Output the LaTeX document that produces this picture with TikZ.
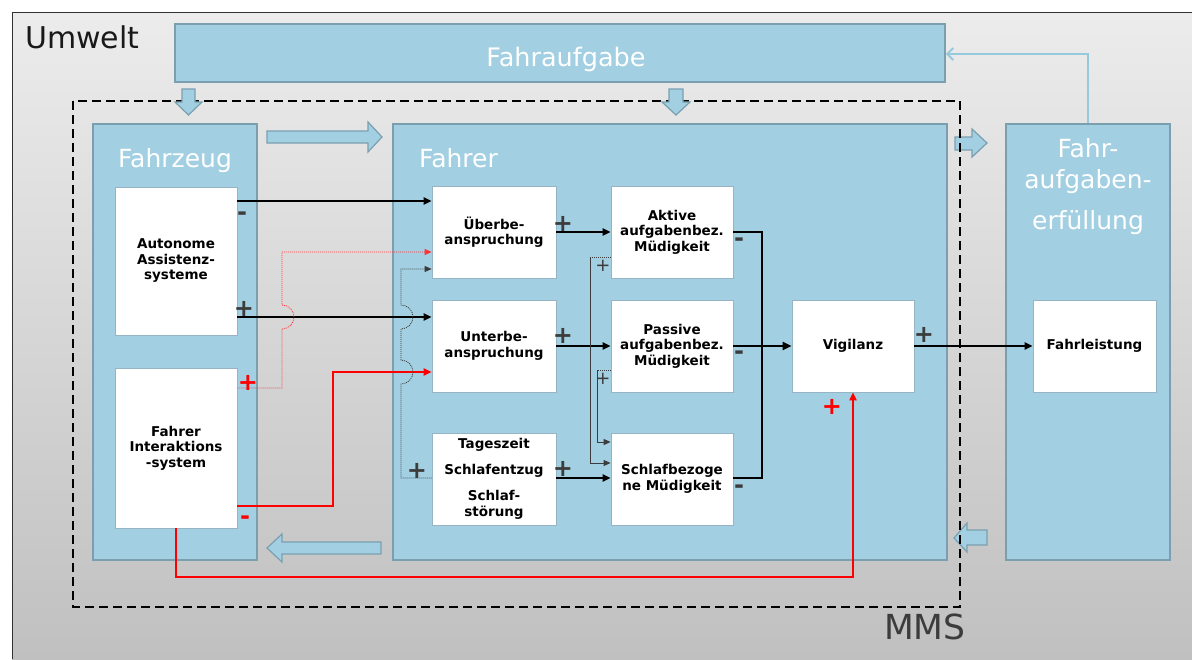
\documentclass[tikz,border=0pt]{standalone}
\usepackage{fontspec}
\setmainfont{DejaVu Sans}
\usetikzlibrary{arrows.meta}
\definecolor{lblue}{RGB}{162,207,225}
\definecolor{bborder}{RGB}{122,160,176}
\definecolor{wborder}{RGB}{150,180,195}
\definecolor{dgray}{RGB}{60,60,60}
\definecolor{mred}{RGB}{255,0,0}
\definecolor{fbblue}{RGB}{150,200,222}
\definecolor{envtop}{RGB}{236,236,236}
\definecolor{envbot}{RGB}{192,192,192}
\definecolor{frameclr}{RGB}{50,50,50}
\begin{document}
\begin{tikzpicture}[x=1pt,y=-1pt,
  bigbox/.style={draw=bborder,line width=1.8pt,fill=lblue,inner sep=0pt},
  wbox/.style={draw=wborder,line width=0.8pt,fill=white,inner sep=0pt,align=center,
     font=\fontsize{13.5}{15.5}\selectfont\bfseries,text=black},
  bigtext/.style={text=white,font=\fontsize{25}{30}\selectfont,inner sep=0pt},
  sign/.style={font=\fontsize{24}{24}\selectfont\bfseries,text=dgray,inner sep=0pt},
  rsign/.style={sign,text=mred},
  tsign/.style={font=\fontsize{18}{18}\selectfont,text=dgray,inner sep=0pt},
  blockarrow/.style={fill=lblue,draw=bborder,line width=1.2pt,line join=miter},
  blk/.style={line width=2.2pt,-{Triangle[length=8pt,width=7pt]}},
  bthick/.style={line width=2.6pt},
  rthick/.style={draw=mred,line width=2.4pt,-{Triangle[length=8pt,width=7pt]}},
  rdot/.style={draw=mred!80,line width=0.8pt,dash pattern=on 1pt off 1pt,-{Triangle[length=7pt,width=6pt]}},
  gdot/.style={draw=dgray,line width=0.8pt,dash pattern=on 1pt off 1pt,-{Triangle[length=7pt,width=6pt]}},
  gthin/.style={draw=dgray,line width=0.9pt,-{Triangle[length=7pt,width=6pt]}},
  gdots/.style={draw=dgray,line width=0.9pt,dash pattern=on 1pt off 1pt},
  fbarrow/.style={draw=fbblue,line width=2pt,-{Straight Barb[length=6pt,width=12pt]}},
  mms/.style={dash pattern=on 9pt off 5pt,line width=2pt}
]
\useasboundingbox (0,0) rectangle (1192,659);
\fill[white] (0,0) rectangle (1192,659);
% environment
\shade[top color=envtop,bottom color=envbot] (12,12) rectangle (1192,659);
\draw[frameclr,line width=1pt] (12,659) -- (12,12) -- (1192,12);
\node[anchor=base west,font=\fontsize{30}{30}\selectfont,text=black!90,inner sep=0pt] (umw) at (25,48) {Umwelt};

% big boxes
\node[bigbox,minimum width=770pt,minimum height=58pt] (fa) at (560,53) {};
\node[bigtext,anchor=base,font=\fontsize{25.5}{30}\selectfont] (fat) at (566,66) {Fahraufgabe};
\node[bigbox,minimum width=164pt,minimum height=436pt] (fz) at (175,342) {};
\node[bigbox,minimum width=554pt,minimum height=436pt] (fr) at (670,342) {};
\node[bigbox,minimum width=164pt,minimum height=436pt] (fe) at (1088,342) {};
\node[bigtext,anchor=base] (fzt) at (175,167) {Fahrzeug};
\node[bigtext,anchor=base west] (frt) at (419,167) {Fahrer};
\node[bigtext,anchor=base] (fet1) at (1088,157) {Fahr-};
\node[bigtext,anchor=base] (fet2) at (1088,188) {aufgaben-};
\node[bigtext,anchor=base] (fet3) at (1088,229) {erfüllung};

% block arrows (horizontal)
\draw[blockarrow] (267,131) -- (368,131) -- (368,122) -- (382,137) -- (368,152) -- (368,143) -- (267,143) -- cycle;
\draw[blockarrow] (955,137) -- (972,137) -- (972,129) -- (987,143) -- (972,157) -- (972,150) -- (955,150) -- cycle;
\draw[blockarrow] (381,542) -- (282,542) -- (282,534) -- (267,548) -- (282,562) -- (282,554) -- (381,554) -- cycle;
\draw[blockarrow] (987,530) -- (967,530) -- (967,523) -- (954,538) -- (967,552) -- (967,545) -- (987,545) -- cycle;

% MMS boundary
\draw[mms] (73,101) rectangle (960,607);
\node[anchor=base west,font=\fontsize{34.5}{34}\selectfont,text=dgray,inner sep=0pt] (mmst) at (884,639) {MMS};

% block arrows (down)
\draw[blockarrow] (182,89) -- (195,89) -- (195,102) -- (202,102) -- (188.5,115) -- (175,102) -- (182,102) -- cycle;
\draw[blockarrow] (669,89) -- (683,89) -- (683,102) -- (690,102) -- (676,115) -- (662,102) -- (669,102) -- cycle;

% feedback
\draw[fbarrow] (fe.north) -- (fe.north |- 0,54) -- (fa.east |- 0,54);

% white boxes
\node[wbox,minimum width=122pt,minimum height=148pt] (aa) at (176,261) {Autonome\\Assistenz-\\systeme};
\node[wbox,minimum width=122pt,minimum height=160pt] (fi) at (176,448) {Fahrer\\Interaktions\\-system};
\node[wbox,minimum width=124pt,minimum height=92pt] (ub) at (494,232) {Überbe-\\anspruchung};
\node[wbox,minimum width=124pt,minimum height=92pt] (un) at (494,346) {Unterbe-\\anspruchung};
\node[wbox,minimum width=124pt,minimum height=92pt,font=\fontsize{13.5}{16}\selectfont\bfseries] (ts) at (494,479) {Tageszeit\\[10pt]Schlafentzug\\[10pt]Schlaf-\\störung};
\node[wbox,minimum width=122pt,minimum height=92pt] (ak) at (672,232) {Aktive\\aufgabenbez.\\Müdigkeit};
\node[wbox,minimum width=122pt,minimum height=92pt] (pa) at (672,346) {Passive\\aufgabenbez.\\Müdigkeit};
\node[wbox,minimum width=122pt,minimum height=92pt] (sb) at (672,479) {Schlafbezoge\\ne Müdigkeit};
\node[wbox,minimum width=122pt,minimum height=92pt] (vi) at (853,346) {Vigilanz};
\node[wbox,minimum width=123pt,minimum height=92pt] (fl) at (1094.5,346) {Fahrleistung};

% connectors from vehicle
\draw[blk] (aa.east |- 0,201) -- (ub.west |- 0,201);
\draw[blk] (aa.east |- 0,317) -- (un.west |- 0,317);
\draw[rdot] (fi.east |- 0,388) -- (282,388) -- (282,329) arc[start angle=-90,end angle=90,radius=12pt] -- (282,252) -- (ub.west |- 0,252);
\draw[rthick] (fi.east |- 0,506) -- (333,506) -- (333,372) -- (un.west |- 0,372);
\draw[rthick] (fi.south) -- (fi.south |- 0,577) -- (vi.south |- 0,577) -- (vi.south);
\draw[gdot] (ts.west |- 0,478) -- (401,478) -- (401,384) arc[start angle=-90,end angle=90,radius=12pt] -- (401,329) arc[start angle=-90,end angle=90,radius=12pt] -- (401,269) -- (ub.west |- 0,269);

% inside driver
\draw[blk] (ub.east) -- (ak.west);
\draw[blk] (un.east) -- (pa.west);
\draw[blk] (ts.east |- 0,478) -- (sb.west |- 0,478);
\draw[gdots] (ak.west |- 0,257) -- (590,257);
\draw[gthin] (590,257) -- (590,463) -- (sb.west |- 0,463);
\draw[gdots] (pa.west |- 0,370) -- (597,370);
\draw[gthin] (597,370) -- (597,442) -- (sb.west |- 0,442);
\draw[bthick] (ak.east) -- (762,232) -- (762,478) -- (sb.east |- 0,478);
\draw[bthick,-{Triangle[length=9pt,width=8pt]}] (pa.east) -- (vi.west);
\draw[line width=2pt,-{Triangle[length=8pt,width=7pt]}] (vi.east) -- (fl.west);

% signs
\node[sign] (s1) at (242,216) {-};
\node[sign] (s2) at (244,309) {+};
\node[rsign] (s3) at (248,383) {+};
\node[rsign] (s4) at (245,520) {-};
\node[sign] (s5) at (563,224) {+};
\node[sign] (s6) at (563,336) {+};
\node[sign] (s7) at (563,469) {+};
\node[sign] (s8) at (417,471) {+};
\node[sign] (s9) at (739,242) {-};
\node[sign] (s10) at (739,355) {-};
\node[sign] (s11) at (739,489) {-};
\node[tsign] (s12) at (603,266) {+};
\node[tsign] (s13) at (603,379) {+};
\node[sign] (s14) at (924,335) {+};
\node[rsign] (s15) at (832,407) {+};
\end{tikzpicture}
\end{document}
